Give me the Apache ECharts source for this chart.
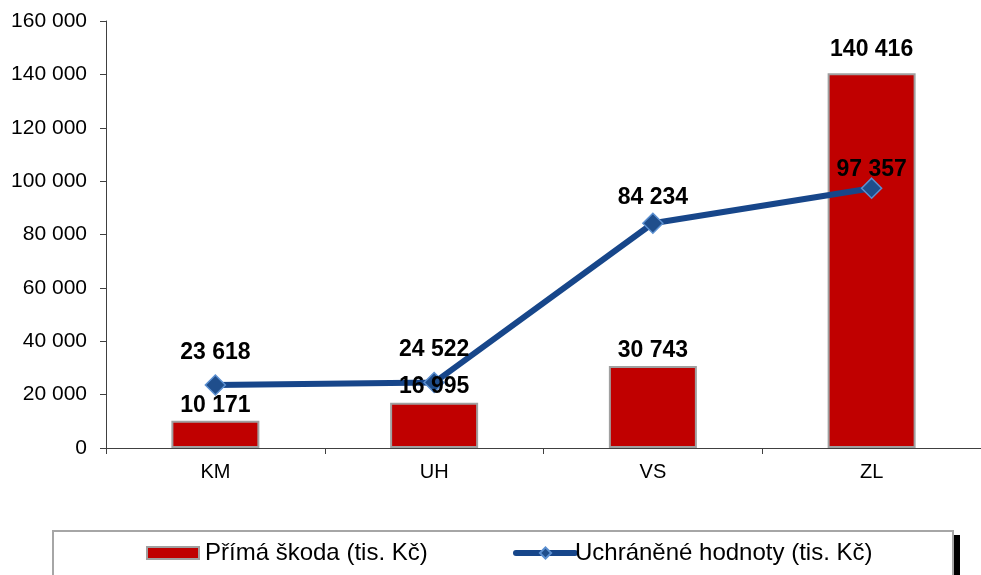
<!DOCTYPE html>
<html>
<head>
<meta charset="utf-8">
<script src="https://cdn.jsdelivr.net/npm/echarts@6/dist/echarts.min.js"></script>
<style>
  html, body { margin: 0; padding: 0; background: #fff; }
  #chart { width: 981px; height: 575px; }
</style>
</head>
<body>
<div id="chart"></div>
<script>
const categories = ["KM", "UH", "VS", "ZL"];
const primaSkoda = [10171, 16995, 30743, 140416];
const uchraneneHodnoty = [23618, 24522, 84234, 97357];

// label gaps as placed in the original (Excel moved a few of them)
const barLabelGap = [4, 4, 4, 12];
const lineLabelGap = [10, 11, 3, -4];

const fmt = (v) => String(v).replace(/\B(?=(\d{3})+(?!\d))/g, " ");

const chart = echarts.init(document.getElementById("chart"));

const dataLabel = {
    show: true,
    position: "top",
    color: "#000",
    fontSize: 23,
    fontWeight: "bold",
    formatter: (p) => fmt(p.value),
};

chart.setOption({
    backgroundColor: "#ffffff",
    animation: false,
    textStyle: { fontFamily: "Liberation Sans, Arial, sans-serif" },
    grid: { left: 106, top: 21, width: 884, bottom: 127 },
    xAxis: {
        type: "category",
        data: categories,
        axisLine: { lineStyle: { color: "#404040", width: 1 } },
        axisTick: { show: true, length: 6, lineStyle: { color: "#404040" } },
        axisLabel: { color: "#000", fontSize: 20, margin: 14 },
    },
    yAxis: {
        type: "value",
        min: 0,
        max: 160000,
        interval: 20000,
        axisLine: { show: true, lineStyle: { color: "#404040", width: 1 } },
        axisTick: { show: true, length: 6, lineStyle: { color: "#404040" } },
        splitLine: { show: false },
        axisLabel: { color: "#000", fontSize: 21, margin: 19, formatter: fmt },
    },
    legend: [
        {
            left: 146,
            top: 541,
            padding: 0,
            itemWidth: 52,
            itemHeight: 12,
            textStyle: { fontSize: 24, color: "#000", padding: [0, 0, 0, 1] },
            data: [{ name: "Přímá škoda (tis. Kč)", icon: "rect" }],
        },
        {
            left: 513,
            top: 541,
            padding: 0,
            itemWidth: 59,
            itemHeight: 14,
            lineStyle: { width: 6, cap: "round" },
            textStyle: { fontSize: 24, color: "#000", padding: [0, 0, 0, -5] },
            data: [{ name: "Uchráněné hodnoty (tis. Kč)" }],
        },
    ],
    graphic: [
        {
            type: "rect",
            shape: { x: 53, y: 531, width: 900, height: 50 },
            style: { fill: "none", stroke: "#a6a6a6", lineWidth: 2 },
            z: -1,
        },
        {
            type: "rect",
            shape: { x: 954, y: 535, width: 6, height: 40 },
            style: { fill: "#000" },
        },
    ],
    series: [
        {
            name: "Přímá škoda (tis. Kč)",
            type: "bar",
            data: primaSkoda,
            barWidth: 88,
            itemStyle: { color: "#c00000", borderColor: "#a0a0a0", borderWidth: 2 },
            z: 2,
        },
        {
            name: "Uchráněné hodnoty (tis. Kč)",
            type: "line",
            data: uchraneneHodnoty.map((v, i) => ({
                value: v,
                label: { distance: lineLabelGap[i] },
            })),
            symbol: "diamond",
            symbolSize: 20,
            lineStyle: { color: "#17468a", width: 6, cap: "round" },
            itemStyle: { color: "#1f4e8c", borderColor: "#5b8fd0", borderWidth: 1.5 },
            label: dataLabel,
            z: 3,
        },
        {
            // bar value labels kept above the line
            name: "barLabels",
            type: "bar",
            data: primaSkoda.map((v, i) => ({
                value: v,
                label: { distance: barLabelGap[i] },
            })),
            barWidth: 88,
            barGap: "-100%",
            itemStyle: { color: "transparent" },
            label: dataLabel,
            silent: true,
            z: 5,
        },
    ],
});
</script>
</body>
</html>
